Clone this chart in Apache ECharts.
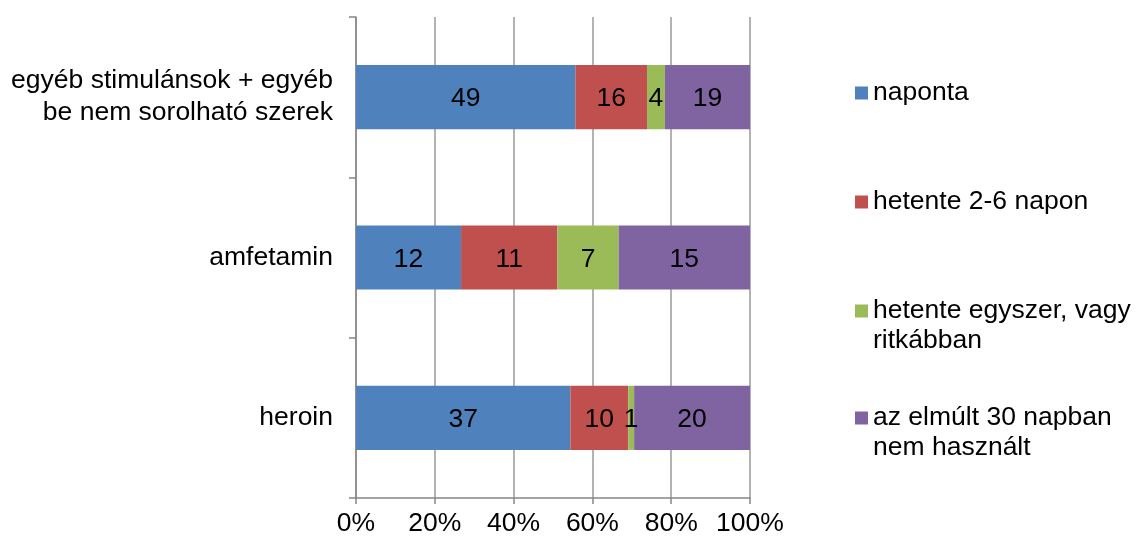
<!DOCTYPE html>
<html>
<head>
<meta charset="utf-8">
<script src="https://cdn.jsdelivr.net/npm/echarts@6/dist/echarts.min.js"></script>
<style>
  html, body { margin: 0; padding: 0; background: #fff; }
  #chart { width: 1137px; height: 543px; }
</style>
</head>
<body>
<div id="chart"></div>
<script>
// kategóriák (alulról felfelé)
const categories = ['heroin', 'amfetamin', 'egyéb stimulánsok + egyéb\nbe nem sorolható szerek'];
// sorozatok nevei
const seriesNames = ['naponta', 'hetente 2-6 napon', 'hetente egyszer, vagy ritkábban', 'az elmúlt 30 napban nem használt'];
// az üres első sor miatt a jelölő az első szövegsorhoz igazodik
const legendLabels = ['naponta', 'hetente 2-6 napon', '\nhetente egyszer, vagy\nritkábban', '\naz elmúlt 30 napban\nnem használt'];
const colors = ['#4F81BD', '#C0504D', '#9BBB59', '#8064A2'];
// darabszámok kategóriánként
const naponta = [37, 12, 49];
const hetente26 = [10, 11, 16];
const hetenteEgyszer = [1, 7, 4];
const nemHasznalt = [20, 15, 19];
const xTicks = [0, 20, 40, 60, 80, 100];

const counts = [naponta, hetente26, hetenteEgyszer, nemHasznalt];
const totals = categories.map((c, i) => counts.reduce((s, arr) => s + arr[i], 0));

const font = 'Liberation Sans, Arial, sans-serif';
const fs = 26.5;
const chart = echarts.init(document.getElementById('chart'));

const legendTops = [78, 187, 266, 373];

const option = {
  animation: false,
  grid: { left: 356, right: 387, top: 17, bottom: 45 },
  legend: seriesNames.map((n, i) => ({
    data: [n],
    orient: 'vertical',
    left: 855,
    top: legendTops[i],
    padding: 0,
    icon: 'rect',
    itemWidth: 13,
    itemHeight: 13,
    selectedMode: false,
    formatter: () => legendLabels[i],
    textStyle: { fontFamily: font, fontSize: fs, color: '#000', lineHeight: 30 }
  })),
  xAxis: {
    type: 'value',
    min: 0,
    max: 100,
    interval: 20,
    axisLine: { show: true, lineStyle: { color: '#868686', width: 1.5 } },
    axisTick: { show: true, length: 6, lineStyle: { color: '#868686', width: 1.5 } },
    splitLine: { show: true, lineStyle: { color: '#9a9a9a', width: 1.5 } },
    axisLabel: {
      formatter: v => v + '%',
      fontFamily: font, fontSize: fs, color: '#000', margin: 12,
      customValues: xTicks
    }
  },
  yAxis: {
    type: 'category',
    data: categories,
    axisLine: { show: true, lineStyle: { color: '#868686', width: 1.5 } },
    axisTick: { show: true, length: 7, lineStyle: { color: '#868686', width: 1.5 } },
    axisLabel: {
      fontFamily: font, fontSize: fs, color: '#000', margin: 23, lineHeight: 32, align: 'right',
      padding: [4, 0, 0, 0]
    }
  },
  series: seriesNames.map((n, si) => ({
    name: n,
    type: 'bar',
    stack: 'total',
    barWidth: '40%',
    itemStyle: { color: colors[si] },
    label: {
      show: true,
      position: 'inside',
      offset: [0, 2],
      fontFamily: font,
      fontSize: fs,
      color: '#000',
      formatter: p => String(counts[si][p.dataIndex])
    },
    data: counts[si].map((v, ci) => v / totals[ci] * 100)
  }))
};

chart.setOption(option);
</script>
</body>
</html>
